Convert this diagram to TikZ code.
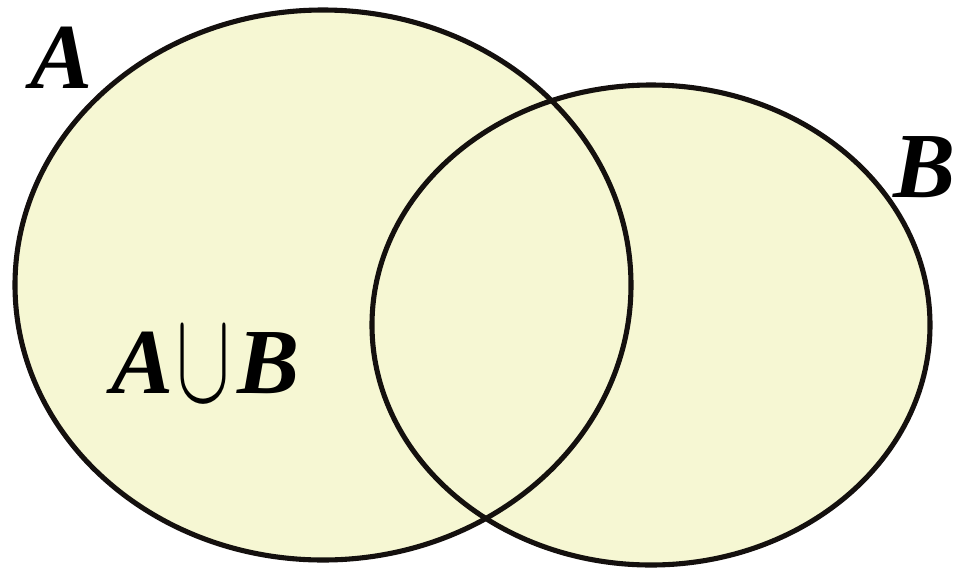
\documentclass[tikz,border=0pt]{standalone}
\usepackage{fontspec}
\setmainfont{Liberation Serif}

\begin{document}
\begin{tikzpicture}[x=0.02cm, y=-0.02cm]
  \definecolor{setfill}{RGB}{246,247,211}
  \definecolor{setline}{RGB}{20,16,14}
  \tikzset{setlabel/.style={font=\fontsize{53}{60}\selectfont\bfseries\itshape, inner sep=0pt}}

  \useasboundingbox (0,0) rectangle (958,569);

  \coordinate (cA) at (323,285);
  \coordinate (cB) at (651,325);
  \fill[setfill] (cA) ellipse (308 and 275);
  \fill[setfill] (cB) ellipse (279 and 240);
  \draw[setline, line width=2.9pt] (cA) ellipse (308 and 275);
  \draw[setline, line width=2.9pt] (cB) ellipse (279 and 240);

  \node[setlabel, anchor=base west] (labA) at (30,88) {A};
  \node[setlabel, anchor=base west] (labB) at (893,197) {B};
  \node[setlabel, anchor=base west] (labUnion) at (111,393)
    {A\kern2pt\raisebox{-0.16cm}{\resizebox{1.08cm}{1.46cm}{$\cup$}}\kern4pt B};
\end{tikzpicture}
\end{document}
